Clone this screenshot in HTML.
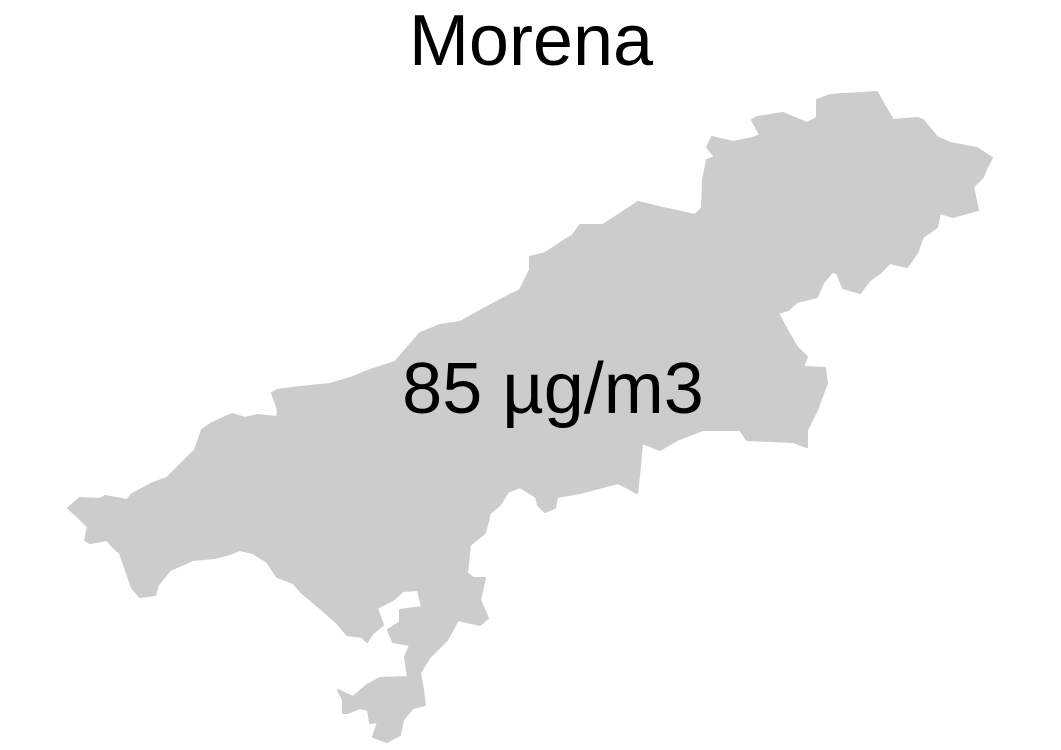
<!DOCTYPE html>
<html>
<head>
<meta charset="utf-8">
<style>
html,body{margin:0;padding:0;background:#fff;}
body{width:1061px;height:750px;overflow:hidden;}
svg{display:block;}
text{font-family:"Liberation Sans",Arial,sans-serif;}
</style>
</head>
<body>
<svg id="chart" width="1061" height="750" viewBox="0 0 1061 750">
  <text x="531" y="65" font-size="72" text-anchor="middle" fill="#000">Morena</text>
  <g id="map"></g>
  <text id="val" x="553" y="413" font-size="72" text-anchor="middle" fill="#000"></text>
</svg>
<script>
const districts = ["Morena"];
const pmValues = [85];
const unitLabel = "µg/m3";
const outline = [
[68,508],[80,498],[100,499],[105,496],[127,500],[132,494],[153,483],[167,478],[195,450],[202,430],[212,423],[232,414],[245,418],[257,415],[277,417],[278,410],[272,393],[277,390],[300,387],[330,384],[350,378],[370,370],[395,362],[420,333],[440,325],[460,322],[478,312],[500,300],[520,290],[530,270],[530,257],[545,253],[573,235],[580,225],[603,225],[638,202],[663,208],[695,215],[702,208],[703,180],[707,160],[715,157],[707,147],[712,137],[733,142],[753,138],[760,135],[752,120],[757,117],[783,113],[807,123],[817,118],[817,100],[830,95],[877,92],[883,103],[893,120],[917,118],[923,120],[937,137],[950,143],[977,148],[992,158],[987,167],[983,177],[973,187],[978,210],[967,213],[953,217],[940,213],[937,227],[923,237],[917,253],[907,267],[890,263],[880,273],[870,280],[860,293],[843,288],[837,273],[832,272],[823,283],[817,297],[797,302],[788,310],[778,313],[787,330],[797,347],[807,357],[803,367],[825,368],[827,383],[817,410],[807,430],[807,447],[793,442],[747,440],[740,430],[703,430],[677,440],[660,450],[642,443],[640,467],[637,493],[618,483],[580,493],[557,497],[555,508],[545,512],[538,505],[536,497],[520,487],[508,492],[500,505],[490,513],[485,533],[470,545],[467,573],[473,578],[485,578],[480,600],[488,618],[480,625],[458,620],[447,640],[430,657],[420,673],[423,690],[425,705],[413,708],[403,720],[400,735],[387,742],[373,737],[378,722],[370,723],[368,710],[360,708],[348,713],[343,713],[343,700],[338,690],[353,697],[367,685],[380,678],[408,677],[405,657],[410,645],[393,642],[388,630],[400,622],[400,610],[422,607],[418,590],[403,591],[393,600],[377,608],[383,625],[373,633],[367,642],[362,637],[347,635],[337,623],[320,608],[302,593],[293,583],[277,577],[267,562],[253,553],[240,550],[230,554],[215,558],[193,560],[182,565],[170,570],[158,585],[155,595],[140,597],[132,588],[120,553],[113,547],[107,540],[90,543],[85,540],[88,527],[78,517]
];
const g = document.getElementById('map');
const p = document.createElementNS('http://www.w3.org/2000/svg','path');
p.setAttribute('d','M'+outline.map(q=>q.join(',')).join('L')+'Z');
p.setAttribute('fill','#cccccc');
p.setAttribute('stroke','#cccccc');
p.setAttribute('stroke-linejoin','round');
p.setAttribute('stroke-width','2');


g.appendChild(p);
document.getElementById('val').textContent = pmValues[0] + ' ' + unitLabel;
</script>
</body>
</html>
